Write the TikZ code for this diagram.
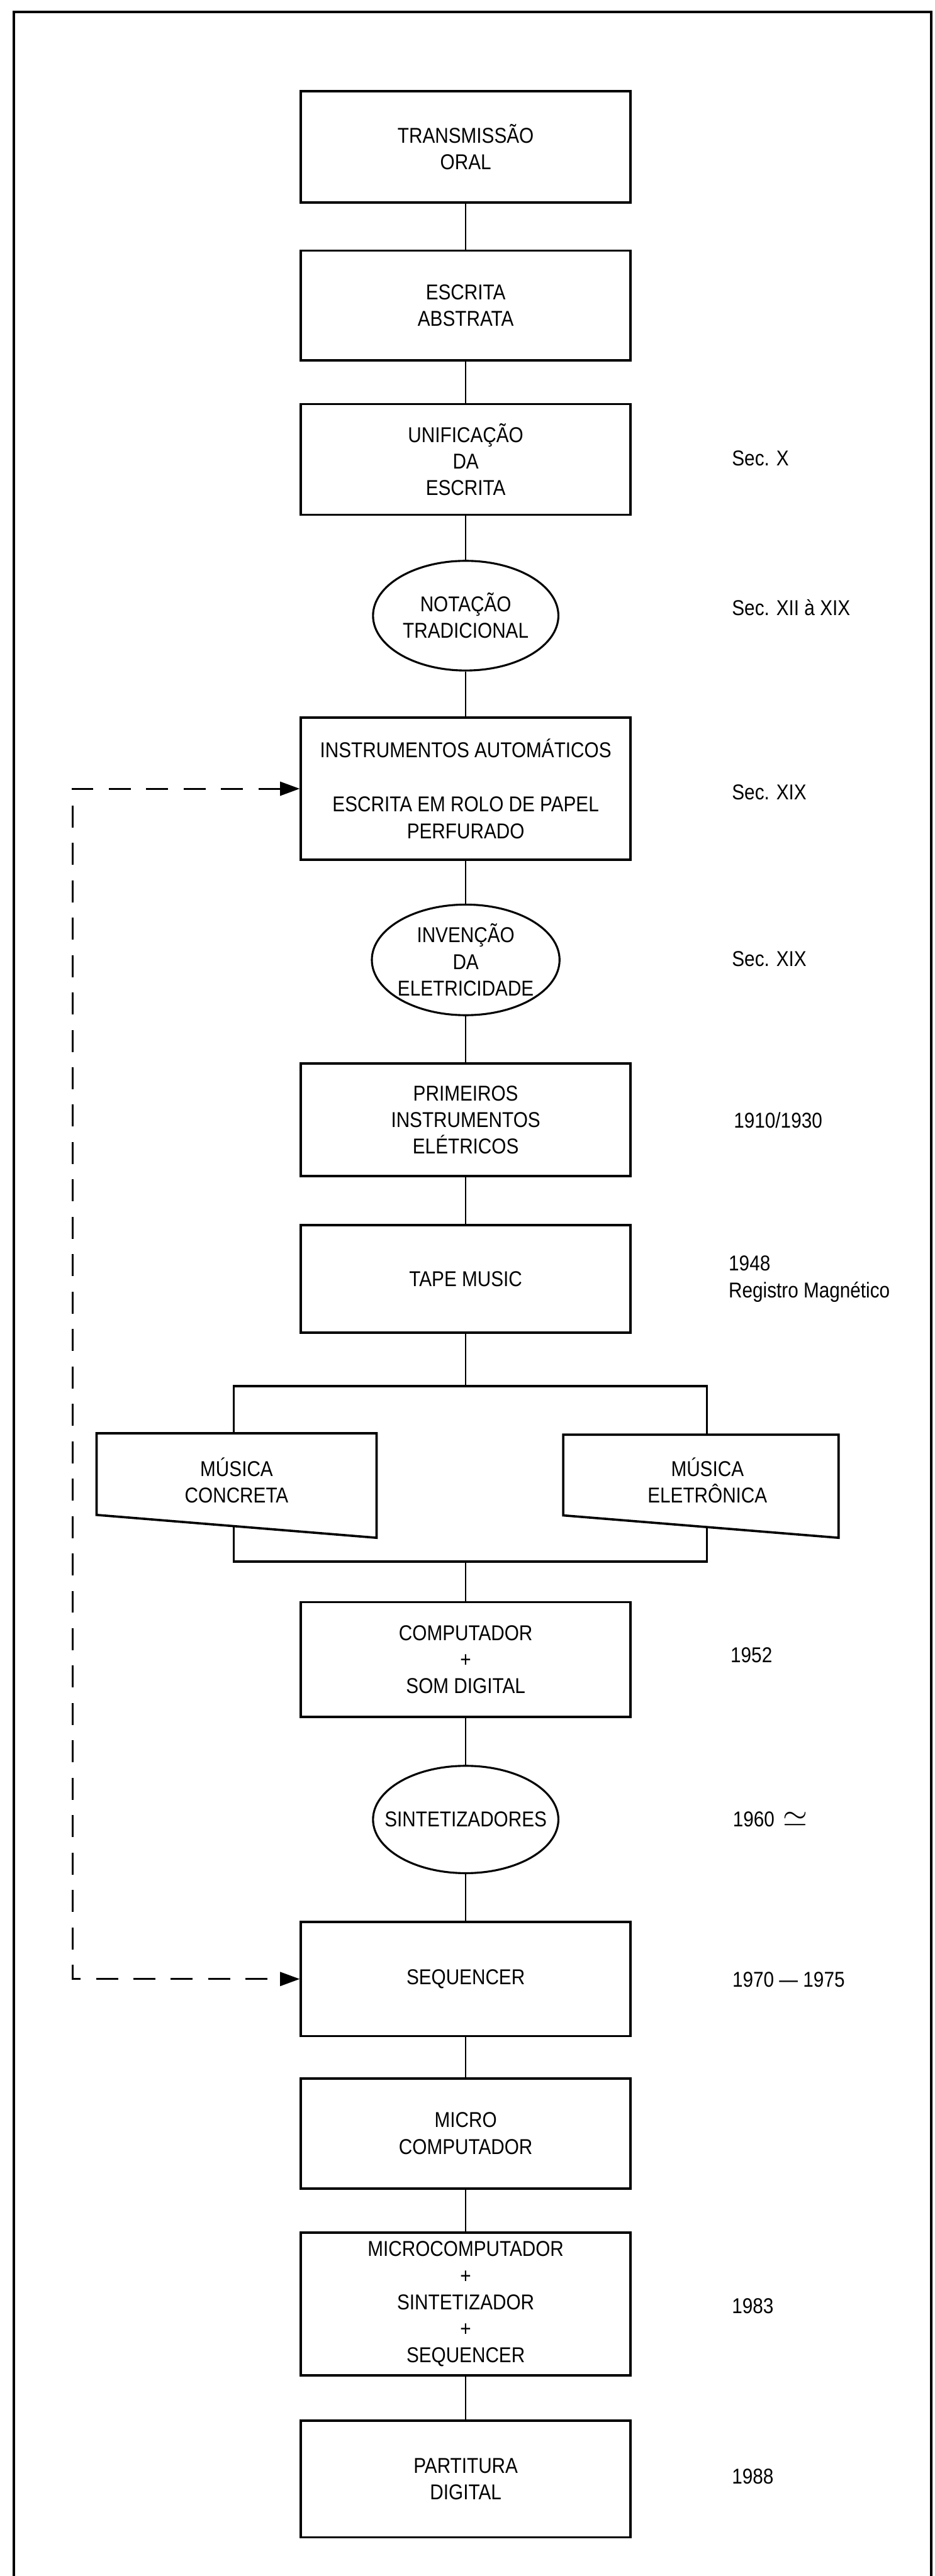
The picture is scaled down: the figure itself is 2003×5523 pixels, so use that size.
\documentclass[tikz,border=0pt]{standalone}
\usepackage{fontspec}
\setmainfont{Liberation Sans}[FakeStretch=0.87]
\usetikzlibrary{shapes.geometric,arrows.meta}
\newcommand\dfont{\fontsize{13.1}{16.2}\selectfont}
\begin{document}
\begin{tikzpicture}[x=0.01cm,y=-0.01cm,
  box/.style={draw, line width=1.4pt, minimum width=7.06cm, inner sep=0pt, align=center, font=\dfont, fill=white},
  oval/.style={ellipse, draw, line width=1.2pt, inner sep=0pt},
  txt/.style={align=center, font=\dfont, inner sep=0pt},
  link/.style={line width=1pt},
  lbl/.style={anchor=west, align=left, font=\dfont, inner sep=0pt},
  trap/.style={draw, line width=1.4pt, fill=white},
  dsh/.style={line width=1.1pt, dash pattern=on 13.4pt off 9.4pt,
    {Triangle[length=12pt,width=8.5pt]}-{Triangle[length=12pt,width=8.5pt]}},
  frame/.style={line width=1.5pt}
]
\useasboundingbox (0,0) rectangle (2003,5523);
% outer frame
\coordinate (f1) at (30,5523);
\coordinate (f2) at (30,25);
\coordinate (f3) at (1996,25);
\coordinate (f4) at (1996,5523);
\draw[frame] (f1) -- (f2) -- (f3) -- (f4);

% main column
\node[box, minimum height=2.38cm] (t1) at (998,315) {TRANSMISSÃO\\ORAL};
\node[box, minimum height=2.35cm] (t2) at (998,655) {ESCRITA\\ABSTRATA};
\node[box, minimum height=2.37cm] (t3) at (998,985) {UNIFICAÇÃO\\DA\\ESCRITA};
\node[oval, minimum width=3.97cm, minimum height=2.35cm] (e1) at (998,1320) {};
\node[txt] (e1t) at (e1) {NOTAÇÃO\\TRADICIONAL};
\node[box, minimum height=3.05cm] (instr) at (998,1691) {INSTRUMENTOS AUTOMÁTICOS\\[17pt]ESCRITA EM ROLO DE PAPEL\\PERFURADO};
\node[oval, minimum width=4.02cm, minimum height=2.37cm] (e2) at (998,2058) {};
\node[txt] (e2t) at (e2) {INVENÇÃO\\DA\\ELETRICIDADE};
\node[box, minimum height=2.41cm] (prim) at (998,2401) {PRIMEIROS\\INSTRUMENTOS\\ELÉTRICOS};
\node[box, minimum height=2.31cm] (tape) at (998,2742) {TAPE MUSIC};
\node[draw, line width=1.3pt, minimum width=10.13cm, minimum height=3.76cm, inner sep=0pt] (br) at (1008,3160) {};
\draw[trap] (207,3073) -- (807,3073) -- (807,3297) -- (207,3248) -- cycle;
\draw[trap] (1207,3076) -- (1797,3076) -- (1797,3297) -- (1207,3249) -- cycle;
\node[txt] (conc) at (507,3174) {MÚSICA\\CONCRETA};
\node[txt] (elet) at (1516,3174) {MÚSICA\\ELETRÔNICA};
\node[box, minimum height=2.46cm] (comp) at (998,3558) {COMPUTADOR\\+\\SOM DIGITAL};
\node[oval, minimum width=3.97cm, minimum height=2.30cm] (e3) at (998,3901) {};
\node[txt] (e3t) at (e3) {SINTETIZADORES};
\node[box, minimum height=2.45cm] (seq) at (998,4243) {SEQUENCER};
\node[box, minimum height=2.36cm] (micro) at (998,4574) {MICRO\\COMPUTADOR};
\node[box, minimum height=3.06cm] (mcomp) at (998,4940) {MICROCOMPUTADOR\\+\\SINTETIZADOR\\+\\SEQUENCER};
\node[box, minimum height=2.50cm] (part) at (998,5315) {PARTITURA\\DIGITAL};

% connectors
\draw[link] (t1) -- (t2);
\draw[link] (t2) -- (t3);
\draw[link] (t3) -- (e1);
\draw[link] (e1) -- (instr);
\draw[link] (instr) -- (e2);
\draw[link] (e2) -- (prim);
\draw[link] (prim) -- (tape);
\draw[link] (tape.south) -- (tape.south |- br.north);
\draw[link] (comp.north |- br.south) -- (comp.north);
\draw[link] (comp) -- (e3);
\draw[link] (e3) -- (seq);
\draw[link] (seq) -- (micro);
\draw[link] (micro) -- (mcomp);
\draw[link] (mcomp) -- (part);

% dashed feedback
\coordinate (dl) at (156,0);
\draw[dsh] (instr.west) -- (instr.west -| dl) -- (seq.west -| dl) -- (seq.west);

% dates
\node[lbl] (d1) at (1568,982) {Sec. X};
\node[lbl] (d2) at (1568,1302) {Sec. XII à XIX};
\node[lbl] (d3) at (1568,1698) {Sec. XIX};
\node[lbl] (d4) at (1568,2056) {Sec. XIX};
\node[lbl] (d5) at (1572,2402) {1910/1930};
\node[lbl] (d6) at (1561,2742) {1948\\Registro Magnético};
\node[lbl] (d7) at (1565,3549) {1952};
\node[lbl] (d8) at (1570,3900) {1960 \,\scalebox{1.6}{$\simeq$}};
\node[lbl] (d9) at (1569,4244) {1970 — 1975};
\node[lbl] (d10) at (1568,4944) {1983};
\node[lbl] (d11) at (1568,5310) {1988};
\end{tikzpicture}
\end{document}
